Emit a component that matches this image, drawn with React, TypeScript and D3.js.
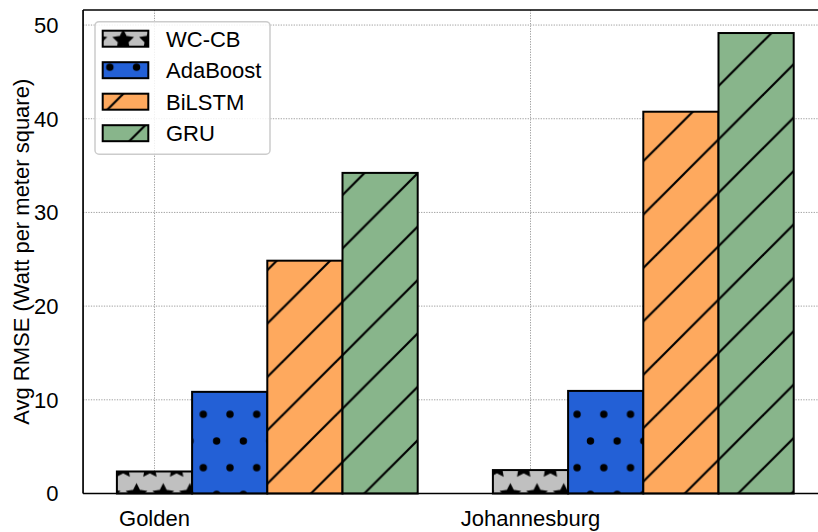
import React from "react";
import * as d3 from "d3";

const categories = ["Golden", "Johannesburg"];
const models = ["WC-CB", "AdaBoost", "BiLSTM", "GRU"];
const golden = [2.35, 10.85, 24.85, 34.22];
const johannesburg = [2.5, 10.95, 40.75, 49.15];
const yTicks = [0, 10, 20, 30, 40, 50];
const colors = ["#c0c0c0", "#2360d6", "#fea95e", "#88b58b"];
const patterns = ["stars", "dots", "lines", "lines"];
const yLabel = "Avg RMSE (Watt per meter square)";

const W = 818, H = 532;
const FONT = "'Liberation Sans', Arial, Helvetica, sans-serif";

export default function App() {
  const series = [golden, johannesburg];
  const barW = 0.2;
  const allVals = series.flat();
  const yMax = (d3.max(allVals) as number) * 1.05;
  const x = d3.scaleLinear().domain([0, 1]).range([154.5, 530.5]);
  const xMin = -barW / 2, xMaxD = 1 + 3 * barW + barW / 2;
  const pad = (xMaxD - xMin) * 0.05;
  const left = x(xMin - pad), right = x(xMaxD + pad);
  const top = 10, bottom = 493.5;
  const y = d3.scaleLinear().domain([0, yMax]).range([bottom, top]);

  const ox = 16.4, oy = 40.5, P = 26.7, T = 53.4;
  const hatchW = 2.2;
  const starR = 8.9;
  const starPath = (() => {
    const pts: [number, number][] = [];
    for (let k = 0; k < 10; k++) {
      const a = Math.PI / 2 + (k * Math.PI) / 5;
      const r = k % 2 === 0 ? starR : starR * 0.5;
      pts.push([r * Math.cos(a), -r * Math.sin(a)]);
    }
    return d3.line()(pts) + "Z";
  })();
  const starPos: [number, number][] = [
    [0, 0], [P, 0], [0, T], [P, T], [P / 2, T / 2], [P / 2, -T / 2], [P / 2, 1.5 * T],
  ];
  const dotPos = starPos;

  const patternDefs = models.map((m, i) => {
    const id = `pat${i}`;
    const kind = patterns[i];
    if (kind === "lines") {
      return (
        <pattern key={id} id={id} patternUnits="userSpaceOnUse" x={ox} y={oy} width={T} height={T}>
          <rect width={T} height={T} fill={colors[i]} />
          <line x1={0} y1={T} x2={T} y2={0} stroke="#000" strokeWidth={hatchW} />
          <line x1={-3} y1={3} x2={3} y2={-3} stroke="#000" strokeWidth={hatchW} />
          <line x1={T - 3} y1={T + 3} x2={T + 3} y2={T - 3} stroke="#000" strokeWidth={hatchW} />
        </pattern>
      );
    }
    if (kind === "dots") {
      return (
        <pattern key={id} id={id} patternUnits="userSpaceOnUse" x={ox} y={oy} width={P} height={T}>
          <rect width={P} height={T} fill={colors[i]} />
          {dotPos.map(([cx, cy], j) => (
            <circle key={j} cx={cx} cy={cy} r={3.7} fill="#000" />
          ))}
        </pattern>
      );
    }
    return (
      <pattern key={id} id={id} patternUnits="userSpaceOnUse" x={ox} y={oy} width={P} height={T}>
        <rect width={P} height={T} fill={colors[i]} />
        {starPos.map(([cx, cy], j) => (
          <path key={j} d={starPath} transform={`translate(${cx},${cy})`} fill="#000" stroke="#000" strokeWidth={hatchW} strokeLinejoin="miter" />
        ))}
      </pattern>
    );
  });

  const gridStyle = { stroke: "#a0a0a0", strokeWidth: 1, strokeDasharray: "1.3,1.3" };

  return (
    <svg width={W} height={H} style={{ position: "absolute", left: 0, top: 0, background: "#fff" }} fontFamily={FONT}>
      <defs>
        {patternDefs}
        <clipPath id="plotClip">
          <rect x={left} y={top} width={right - left} height={bottom - top} />
        </clipPath>
      </defs>
      <rect width={W} height={H} fill="#fff" />
      {/* grid */}
      <g clipPath="url(#plotClip)">
        {yTicks.map((t) => (
          <line key={`gy${t}`} x1={left} x2={right} y1={y(t)} y2={y(t)} {...gridStyle} />
        ))}
        {categories.map((c, i) => (
          <line key={`gx${c}`} x1={x(i)} x2={x(i)} y1={top} y2={bottom} {...gridStyle} />
        ))}
      </g>
      {/* bars */}
      {categories.map((c, ci) =>
        models.map((m, mi) => {
          const cx = x(ci + mi * barW);
          const x0 = cx - (x(barW) - x(0)) / 2;
          const w = x(barW) - x(0);
          const v = series[ci][mi];
          return (
            <rect key={`${c}-${m}`} x={x0} y={y(v)} width={w} height={bottom - y(v)}
              fill={`url(#pat${mi})`} stroke="#000" strokeWidth={2} />
          );
        })
      )}
      {/* spines */}
      <line x1={left} x2={left} y1={top} y2={bottom} stroke="#000" strokeWidth={1.7} />
      <line x1={left} x2={right} y1={bottom} y2={bottom} stroke="#000" strokeWidth={1.7} />
      <line x1={left} x2={right} y1={top} y2={top} stroke="#000" strokeWidth={1.7} />
      <line x1={right} x2={right} y1={top} y2={bottom} stroke="#000" strokeWidth={1.7} />
      {/* y ticks */}
      {yTicks.map((t) => (
        <text key={`yt${t}`} x={58.5} y={y(t)} dy="0.36em" textAnchor="end" fontSize={22} fill="#000">{t}</text>
      ))}
      {/* x ticks */}
      {categories.map((c, i) => (
        <text key={`xt${c}`} x={x(i)} y={526} textAnchor="middle" fontSize={22} fill="#000">{c}</text>
      ))}
      {/* y label */}
      <text transform={`translate(29,${(top + bottom) / 2}) rotate(-90)`} textAnchor="middle" fontSize={22} fill="#000">{yLabel}</text>
      {/* legend */}
      <g>
        <rect x={95} y={21.7} width={175} height={132.5} rx={4} fill="#fff" fillOpacity={0.85} stroke="#cccccc" strokeWidth={1.5} />
        {models.map((m, i) => {
          const cy = 38.7 + i * 31.5;
          return (
            <g key={m}>
              <rect x={102.7} y={cy - 8} width={45.6} height={16} fill={`url(#pat${i})`} stroke="#000" strokeWidth={2} />
              <text x={166} y={cy} dy="0.36em" fontSize={22} fill="#000">{m}</text>
            </g>
          );
        })}
      </g>
    </svg>
  );
}
